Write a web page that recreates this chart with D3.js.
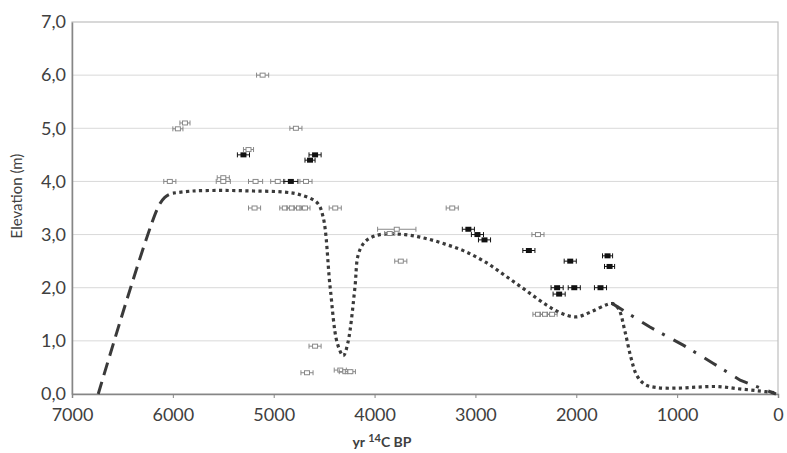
<!DOCTYPE html>
<html><head><meta charset="utf-8">
<script src="https://cdn.jsdelivr.net/npm/d3@7"></script>
<style>body{margin:0;background:#fff}svg{display:block}</style>
</head><body>
<svg id="c" width="787" height="453"></svg>
<script>
// ---- data ----
const ageBP   = [5110,5950,5880,4780,5300,5250,4640,4590,6030,5500,5500,5180,4960,4830,4680,5190,4890,4820,4750,4690,4390,4590,4670,4340,4290,4240,3780,3850,3740,3230,3070,2980,2910,2380,2470,2190,2170,2020,1760,2060,1690,1670,2380,2310,2240];
const ageErr  = [60,50,50,60,60,50,50,60,60,60,70,70,70,70,60,60,50,50,50,50,60,60,60,60,60,50,190,50,60,60,60,60,60,60,60,60,60,60,60,60,50,50,50,50,50];
const elevation=[6.0,4.99,5.1,5.0,4.5,4.6,4.4,4.5,4.0,4.07,4.0,4.0,4.0,4.0,4.0,3.5,3.5,3.5,3.5,3.5,3.5,0.9,0.4,0.45,0.42,0.42,3.1,3.02,2.5,3.5,3.1,3.0,2.9,3.0,2.7,2.0,1.88,2.0,2.0,2.5,2.6,2.4,1.5,1.5,1.5];
const sampleKind=["l","l","l","l","d","l","d","d","l","l","l","l","l","d","l","l","l","l","l","l","l","l","l","l","l","l","l","l","l","l","d","d","d","l","d","d","d","d","d","d","d","d","l","l","l"];

const curveDashedAge  = [6740,6150,6080,6020,6000];
const curveDashedElev = [0,3.5,3.7,3.77,3.78];
const curveDottedAge  = [6000,5800,5500,5200,4900,4740,4570,4510,4440,4370,4310,4265,4195,4165,4115,4050,3945,3700,3500,3300,3100,2900,2700,2500,2300,2150,2000,1850,1700,1640,1580,1520,1460,1400,1320,1200,1000,800,600,400,200,20];
const curveDottedElev = [3.78,3.82,3.83,3.82,3.8,3.75,3.6,3.33,2.0,0.96,0.72,0.96,2.0,2.6,2.82,2.93,3.0,3.0,2.93,2.82,2.68,2.48,2.22,1.95,1.68,1.52,1.45,1.55,1.68,1.7,1.6,1.2,0.7,0.35,0.18,0.12,0.11,0.13,0.14,0.1,0.06,0.02];
const curveDashDotAge  = [1650,1270,940,645,375,20];
const curveDashDotElev = [1.71,1.26,0.92,0.58,0.26,0.0];

const xTicks = [7000,6000,5000,4000,3000,2000,1000,0];
const yTicks = [0,1,2,3,4,5,6,7];

// ---- chart ----
const svg = d3.select("#c");
const L=72, R=778, T=22, B=394;
const x = d3.scaleLinear().domain([7000,0]).range([L,R]);
const y = d3.scaleLinear().domain([0,7]).range([B,T]);
const font = "Lato, 'Open Sans', sans-serif";
const txt = "#404040";

// gridlines
svg.append("g").selectAll("line").data(yTicks.filter(d=>d>0&&d<7)).join("line")
  .attr("x1",L).attr("x2",R).attr("y1",d=>y(d)).attr("y2",d=>y(d))
  .attr("stroke","#d9d9d9").attr("stroke-width",1);
// frame
svg.append("rect").attr("x",L).attr("y",T).attr("width",R-L).attr("height",B-T)
  .attr("fill","none").attr("stroke","#bfbfbf").attr("stroke-width",1.2);

// axes
const xAxis = svg.append("g").attr("transform",`translate(0,${B})`)
  .call(d3.axisBottom(x).tickValues(xTicks).tickFormat(d3.format("d")).tickSize(4).tickPadding(10));
xAxis.select(".domain").attr("stroke","#868686").attr("stroke-width",1.5);
xAxis.selectAll(".tick line").attr("stroke","#868686");
xAxis.selectAll("text").attr("font-family",font).attr("font-size",18).attr("fill",txt);

const yAxis = svg.append("g").attr("transform",`translate(${L},0)`)
  .call(d3.axisLeft(y).tickValues(yTicks).tickFormat(d=>d3.format(".1f")(d).replace(".",",")).tickSize(0).tickPadding(6));
yAxis.select(".domain").attr("stroke","#868686").attr("stroke-width",1.5);
yAxis.selectAll("text").attr("font-family",font).attr("font-size",18).attr("fill",txt);

// axis titles
svg.append("text").attr("transform","translate(22,196) rotate(-90)").attr("text-anchor","middle")
  .attr("font-family",font).attr("font-size",15).attr("fill",txt).text("Elevation (m)");
const xt = svg.append("text").attr("x",382).attr("y",447).attr("text-anchor","middle")
  .attr("font-family",font).attr("font-size",14).attr("font-weight","bold").attr("fill",txt);
xt.append("tspan").text("yr ");
xt.append("tspan").attr("dy",-5).attr("font-size",11).text("14");
xt.append("tspan").attr("dy",5).text("C BP");

// curves
const line = (ages,elevs,curve)=>d3.line().x(i=>x(ages[i])).y(i=>y(elevs[i])).curve(curve)(d3.range(ages.length));
svg.append("path").attr("d",line(curveDashedAge,curveDashedElev,d3.curveCatmullRom))
  .attr("fill","none").attr("stroke","#3a3a3a").attr("stroke-width",3).attr("stroke-dasharray","13,7");
svg.append("path").attr("d",line(curveDottedAge,curveDottedElev,d3.curveCatmullRom.alpha(0.5)))
  .attr("fill","none").attr("stroke","#3a3a3a").attr("stroke-width",3.2).attr("stroke-dasharray","3.2,3.4");
svg.append("path").attr("d",line(curveDashDotAge,curveDashDotElev,d3.curveLinear))
  .attr("fill","none").attr("stroke","#3a3a3a").attr("stroke-width",3).attr("stroke-dasharray","14,9,3,10");

// data points with error bars
const pts = svg.append("g").selectAll("g").data(d3.range(ageBP.length)).join("g");
pts.each(function(i){
  const g = d3.select(this);
  const c = sampleKind[i]==="d" ? "#111" : "#888";
  const cx = x(ageBP[i]), cy = y(elevation[i]);
  const x1 = x(ageBP[i]+ageErr[i]), x2 = x(ageBP[i]-ageErr[i]);
  g.append("line").attr("x1",x1).attr("x2",x2).attr("y1",cy).attr("y2",cy).attr("stroke",c).attr("stroke-width",1);
  [x1,x2].forEach(xx=>g.append("line").attr("x1",xx).attr("x2",xx).attr("y1",cy-2.5).attr("y2",cy+2.5).attr("stroke",c).attr("stroke-width",1));
  if(sampleKind[i]==="d"){
    g.append("rect").attr("x",cx-3).attr("y",cy-2.5).attr("width",6).attr("height",5).attr("fill","#111");
  } else {
    g.append("rect").attr("x",cx-2.5).attr("y",cy-2).attr("width",5).attr("height",4).attr("fill","#fff").attr("stroke",c).attr("stroke-width",1);
  }
});
</script>
</body></html>
